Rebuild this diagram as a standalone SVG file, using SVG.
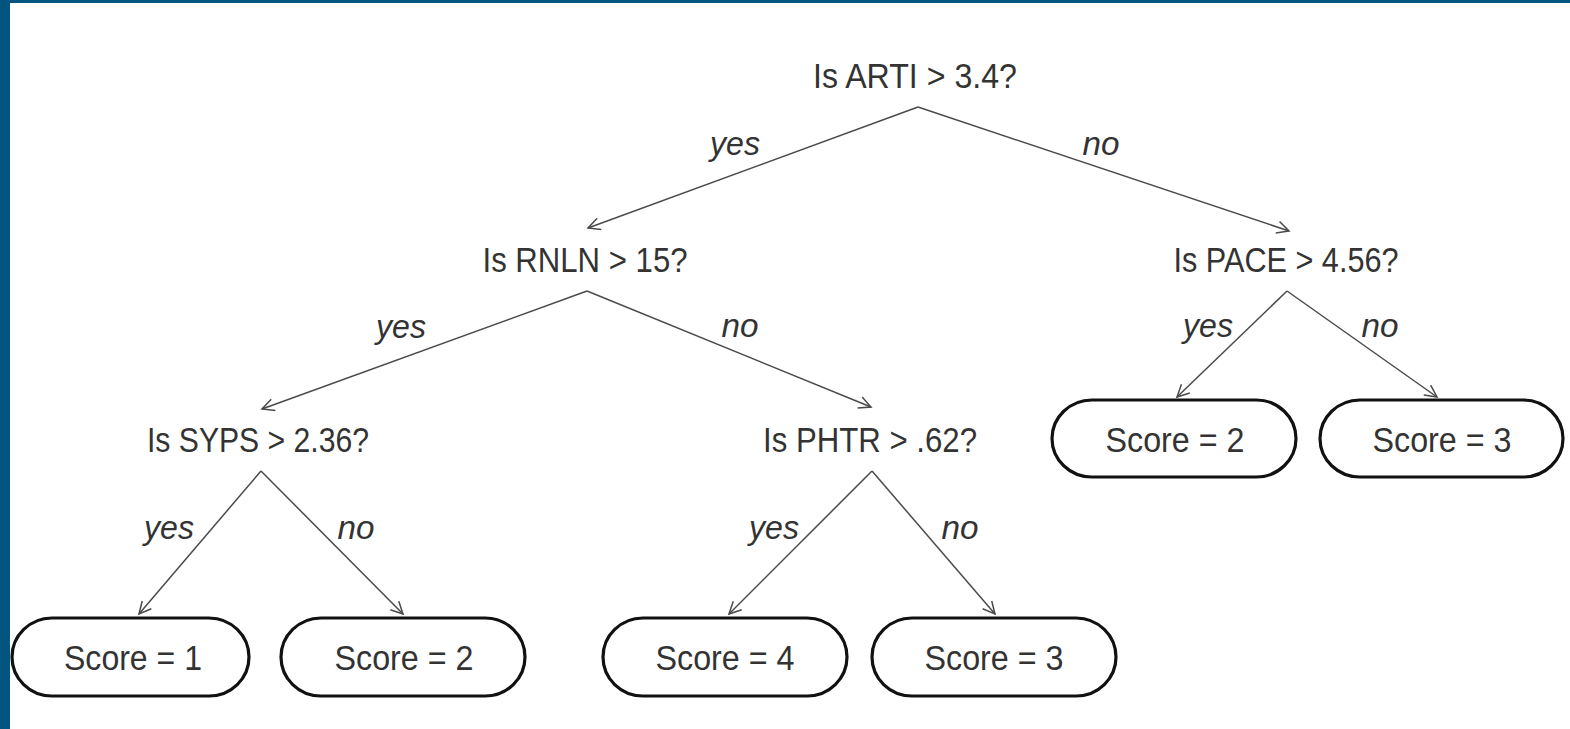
<svg xmlns="http://www.w3.org/2000/svg" width="1570" height="729" viewBox="0 0 1570 729">
  <defs>
    <style>
      .q { font-family: "Liberation Sans", Arial, sans-serif; font-size: 35px; fill: #333333; text-anchor: middle; }
      .lbl { font-family: "Liberation Sans", Arial, sans-serif; font-size: 34px; font-style: italic; fill: #333333; text-anchor: middle; }
      .leaf rect { fill: #ffffff; stroke: #111111; stroke-width: 3.2; }
      .edge { fill: none; stroke: #4a4a4a; stroke-width: 1.5; marker-end: url(#arrow); }
    </style>
    <marker id="arrow" markerUnits="userSpaceOnUse" markerWidth="16" markerHeight="14" viewBox="-13 -7 15 14" refX="0" refY="0" orient="auto">
      <path d="M -12 -6 L 0 0 L -12 6" fill="none" stroke="#4a4a4a" stroke-width="1.5"/>
    </marker>
  </defs>

  <!-- page background and frame -->
  <rect x="0" y="0" width="1570" height="729" fill="#ffffff"/>
  <rect x="0" y="0" width="1570" height="3" fill="#02557f"/>
  <rect x="0" y="0" width="10" height="729" fill="#02557f"/>

  <!-- connectors -->
  <g id="connectors">
    <path class="edge" d="M 918 107 L 588 228"/>
    <path class="edge" d="M 918 107 L 1289 231"/>
    <path class="edge" d="M 587 291 L 262 409"/>
    <path class="edge" d="M 587 291 L 871 407"/>
    <path class="edge" d="M 1287 291 L 1177 397"/>
    <path class="edge" d="M 1287 291 L 1437 397"/>
    <path class="edge" d="M 261 471 L 139 614"/>
    <path class="edge" d="M 261 471 L 403 614"/>
    <path class="edge" d="M 872 471 L 729 614"/>
    <path class="edge" d="M 872 471 L 995 614"/>

    <text class="lbl" x="735" y="155" textLength="50" lengthAdjust="spacingAndGlyphs">yes</text>
    <text class="lbl" x="1101" y="155" textLength="37" lengthAdjust="spacingAndGlyphs">no</text>
    <text class="lbl" x="401" y="338" textLength="50" lengthAdjust="spacingAndGlyphs">yes</text>
    <text class="lbl" x="740" y="337" textLength="37" lengthAdjust="spacingAndGlyphs">no</text>
    <text class="lbl" x="1208" y="337" textLength="50" lengthAdjust="spacingAndGlyphs">yes</text>
    <text class="lbl" x="1380" y="337" textLength="37" lengthAdjust="spacingAndGlyphs">no</text>
    <text class="lbl" x="169" y="539" textLength="50" lengthAdjust="spacingAndGlyphs">yes</text>
    <text class="lbl" x="356" y="539" textLength="37" lengthAdjust="spacingAndGlyphs">no</text>
    <text class="lbl" x="774" y="539" textLength="50" lengthAdjust="spacingAndGlyphs">yes</text>
    <text class="lbl" x="960" y="539" textLength="37" lengthAdjust="spacingAndGlyphs">no</text>
  </g>

  <!-- decision nodes -->
  <g id="q-arti">
    <text class="q" x="915" y="88" textLength="204" lengthAdjust="spacingAndGlyphs">Is ARTI &gt; 3.4?</text>
  </g>
  <g id="q-rnln">
    <text class="q" x="585" y="272" textLength="205" lengthAdjust="spacingAndGlyphs">Is RNLN &gt; 15?</text>
  </g>
  <g id="q-pace">
    <text class="q" x="1286" y="272" textLength="225" lengthAdjust="spacingAndGlyphs">Is PACE &gt; 4.56?</text>
  </g>
  <g id="q-syps">
    <text class="q" x="258" y="452" textLength="222" lengthAdjust="spacingAndGlyphs">Is SYPS &gt; 2.36?</text>
  </g>
  <g id="q-phtr">
    <text class="q" x="870" y="452" textLength="214" lengthAdjust="spacingAndGlyphs">Is PHTR &gt; .62?</text>
  </g>

  <!-- leaf nodes -->
  <g id="leaf-pace-yes" class="leaf">
    <rect x="1052" y="400" width="244" height="77" rx="40" ry="38.5"/>
    <text class="q" x="1175" y="452" textLength="139" lengthAdjust="spacingAndGlyphs">Score = 2</text>
  </g>
  <g id="leaf-pace-no" class="leaf">
    <rect x="1320" y="400" width="243" height="77" rx="40" ry="38.5"/>
    <text class="q" x="1442" y="452" textLength="139" lengthAdjust="spacingAndGlyphs">Score = 3</text>
  </g>
  <g id="leaf-syps-yes" class="leaf">
    <rect x="12" y="618" width="237" height="78" rx="40" ry="39"/>
    <text class="q" x="133" y="670" textLength="138" lengthAdjust="spacingAndGlyphs">Score = 1</text>
  </g>
  <g id="leaf-syps-no" class="leaf">
    <rect x="281" y="618" width="244" height="78" rx="40" ry="39"/>
    <text class="q" x="404" y="670" textLength="139" lengthAdjust="spacingAndGlyphs">Score = 2</text>
  </g>
  <g id="leaf-phtr-yes" class="leaf">
    <rect x="603" y="618" width="244" height="78" rx="40" ry="39"/>
    <text class="q" x="725" y="670" textLength="139" lengthAdjust="spacingAndGlyphs">Score = 4</text>
  </g>
  <g id="leaf-phtr-no" class="leaf">
    <rect x="872" y="618" width="244" height="78" rx="40" ry="39"/>
    <text class="q" x="994" y="670" textLength="139" lengthAdjust="spacingAndGlyphs">Score = 3</text>
  </g>
</svg>
